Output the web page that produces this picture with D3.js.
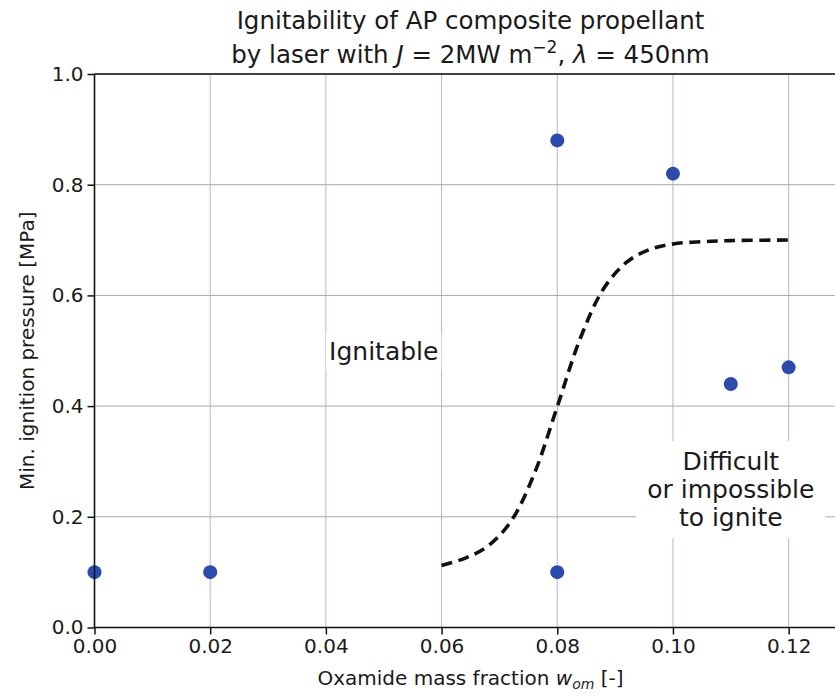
<!DOCTYPE html>
<html>
<head>
<meta charset="utf-8">
<script src="https://cdn.jsdelivr.net/npm/d3@7"></script>
<style>
  html, body { margin: 0; padding: 0; background: #fff; }
  svg { display: block; }
  text { font-family: "DejaVu Sans", sans-serif; fill: #1a1a1a; }
</style>
</head>
<body>
<svg id="chart" width="835" height="696"></svg>
<script>
// ---- data ----
const xTicks = [0.00, 0.02, 0.04, 0.06, 0.08, 0.10, 0.12];
const yTicks = [0.0, 0.2, 0.4, 0.6, 0.8, 1.0];
const pointsX = [0.00, 0.02, 0.08, 0.08, 0.10, 0.11, 0.12];
const pointsY = [0.10, 0.10, 0.88, 0.10, 0.82, 0.44, 0.47];
const curveX = [0.060, 0.064, 0.068, 0.072, 0.076, 0.080, 0.084, 0.088, 0.092, 0.096, 0.100, 0.105, 0.110, 0.120];
const curveY = [0.112, 0.125, 0.147, 0.192, 0.277, 0.399, 0.523, 0.612, 0.660, 0.683, 0.693, 0.697, 0.699, 0.700];
const titleLine1 = "Ignitability of AP composite propellant";
const labelIgnitable = "Ignitable";
const labelDifficult = ["Difficult", "or impossible", "to ignite"];
const ylabelText = "Min. ignition pressure [MPa]";

// ---- layout ----
const svg = d3.select("#chart");
const mLeft = 94.5, mTop = 74, mBottom = 627.5, mRight = 846.5;
const x = d3.scaleLinear().domain([0, 0.13]).range([mLeft, mRight]);
const y = d3.scaleLinear().domain([0, 1]).range([mBottom, mTop]);

// grid
svg.append("g").selectAll("line").data(xTicks).join("line")
  .attr("x1", d => x(d)).attr("x2", d => x(d))
  .attr("y1", mTop).attr("y2", mBottom)
  .attr("stroke", "#b2b4de").attr("stroke-width", 1);
svg.append("g").selectAll("line").data(yTicks).join("line")
  .attr("x1", mLeft).attr("x2", 835)
  .attr("y1", d => y(d)).attr("y2", d => y(d))
  .attr("stroke", "#a9a9a9").attr("stroke-width", 1);

// dashed curve
const curveData = curveX.map((v, i) => [v, curveY[i]]);
svg.append("path")
  .datum(curveData)
  .attr("d", d3.line().x(d => x(d[0])).y(d => y(d[1])).curve(d3.curveCatmullRom.alpha(0.5)))
  .attr("fill", "none").attr("stroke", "#111").attr("stroke-width", 3.6)
  .attr("stroke-dasharray", "11,6.5");

// points
const pts = pointsX.map((v, i) => [v, pointsY[i]]);
svg.append("g").selectAll("circle").data(pts).join("circle")
  .attr("cx", d => x(d[0])).attr("cy", d => y(d[1])).attr("r", 7)
  .attr("fill", "#2b4bad");

// axes
const xAxis = svg.append("g").attr("transform", `translate(0,${mBottom})`)
  .call(d3.axisBottom(x).tickValues(xTicks).tickFormat(d3.format(".2f")).tickSize(7).tickPadding(4));
const yAxis = svg.append("g").attr("transform", `translate(${mLeft},0)`)
  .call(d3.axisLeft(y).tickValues(yTicks).tickFormat(d3.format(".1f")).tickSize(7).tickPadding(4));
[xAxis, yAxis].forEach(a => {
  a.select(".domain").remove();
  a.selectAll(".tick line").attr("stroke", "#111").attr("stroke-width", 1.5);
  a.selectAll(".tick text").attr("font-family", "DejaVu Sans").attr("font-size", 20).attr("fill", "#1a1a1a");
});
// spines
svg.append("line").attr("x1", mLeft).attr("x2", 835).attr("y1", mBottom).attr("y2", mBottom).attr("stroke", "#111").attr("stroke-width", 1.6);
svg.append("line").attr("x1", mLeft).attr("x2", 835).attr("y1", mTop).attr("y2", mTop).attr("stroke", "#111").attr("stroke-width", 1.6);
svg.append("line").attr("x1", mLeft).attr("x2", mLeft).attr("y1", mTop).attr("y2", mBottom).attr("stroke", "#111").attr("stroke-width", 1.6);

// annotations with white boxes
function boxedText(cx, cy, lines, fs, lh, padX, padY) {
  const g = svg.append("g");
  const rect = g.append("rect").attr("fill", "#fff");
  const t = g.append("text").attr("text-anchor", "middle").attr("font-size", fs);
  const n = lines.length;
  lines.forEach((s, i) => {
    t.append("tspan").attr("x", cx)
      .attr("y", cy + (i - (n - 1) / 2) * lh + fs * 0.36)
      .text(s);
  });
  const bb = t.node().getBBox();
  rect.attr("x", bb.x - padX).attr("y", bb.y - padY)
    .attr("width", bb.width + 2 * padX).attr("height", bb.height + 2 * padY);
}
boxedText(x(0.05), y(0.5), [labelIgnitable], 25, 28, 3, 4);
boxedText(x(0.11), y(0.25), labelDifficult, 25, 28, 11, 6);

// title
svg.append("text").attr("x", x(0.065)).attr("y", 28.5).attr("text-anchor", "middle")
  .attr("font-size", 24.5).text(titleLine1);
const t2 = svg.append("text").attr("x", x(0.065)).attr("y", 63).attr("text-anchor", "middle").attr("font-size", 24.5);
t2.append("tspan").text("by laser with ");
t2.append("tspan").attr("font-style", "italic").text("J");
t2.append("tspan").text(" = 2MW m");
t2.append("tspan").attr("font-size", 17).attr("dy", -10).text("−2");
t2.append("tspan").attr("dy", 10).text(", ");
t2.append("tspan").attr("font-style", "italic").text("λ");
t2.append("tspan").text(" = 450nm");

// x label
const xl = svg.append("text").attr("x", x(0.065)).attr("y", 685).attr("text-anchor", "middle").attr("font-size", 20);
xl.append("tspan").text("Oxamide mass fraction ");
xl.append("tspan").attr("font-style", "italic").text("w");
xl.append("tspan").attr("font-style", "italic").attr("font-size", 14).attr("dy", 4).text("om");
xl.append("tspan").attr("dy", -4).text(" [-]");

// y label
svg.append("text").attr("transform", `translate(34,${(mTop + mBottom) / 2}) rotate(-90)`)
  .attr("text-anchor", "middle").attr("font-size", 20).text(ylabelText);
</script>
</body>
</html>
